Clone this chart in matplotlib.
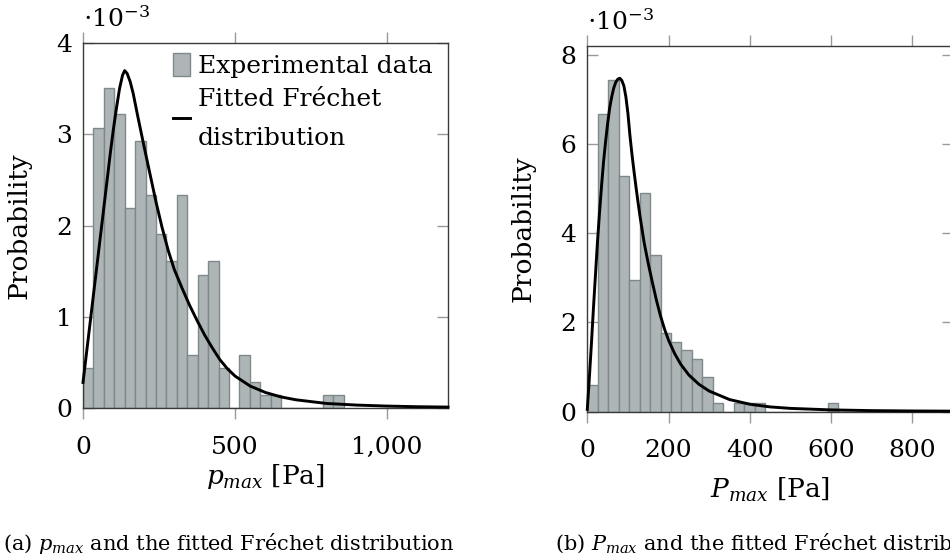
import numpy as np
import matplotlib
matplotlib.use("Agg")
import matplotlib.pyplot as plt
from matplotlib.patches import Patch
from matplotlib.lines import Line2D

plt.rcParams['font.family'] = ['DejaVu Serif']
plt.rcParams['mathtext.fontset'] = 'dejavuserif'

# ---------------- data (probabilities in units of 1e-3) ----------------
left_bin_width = 34.3
left_heights = [0.435, 3.07, 3.51, 3.22, 2.19, 2.93, 2.34, 1.91, 1.61, 2.34,
                0.58, 1.46, 1.61, 0.435, 0.0, 0.58, 0.29, 0.145, 0.145, 0.0,
                0.0, 0.0, 0.0, 0.145, 0.145]
left_fit_x = [0, 10, 20, 30, 40, 50, 60, 70, 80, 90, 100, 110, 120, 130, 137,
              145, 155, 165, 180, 200, 220, 240, 260, 280, 300, 325, 350, 375,
              400, 425, 450, 475, 500, 550, 600, 650, 700, 800, 900, 1000,
              1100, 1200]
left_fit_y = [0.28, 0.56, 0.84, 1.12, 1.40, 1.68, 1.96, 2.24, 2.52, 2.80, 3.06,
              3.29, 3.50, 3.65, 3.70, 3.67, 3.58, 3.45, 3.20, 2.88, 2.57, 2.26,
              1.98, 1.73, 1.52, 1.32, 1.13, 0.96, 0.80, 0.66, 0.53, 0.43, 0.35,
              0.24, 0.17, 0.122, 0.09, 0.05, 0.032, 0.021, 0.014, 0.010]

right_bin_width = 25.75
right_heights = [0.59, 6.66, 7.44, 5.28, 2.95, 4.89, 3.52, 1.76, 1.57, 1.37,
                 1.17, 0.78, 0.19, 0.0, 0.19, 0.19, 0.19, 0.0, 0.0, 0.0,
                 0.0, 0.0, 0.0, 0.2]
right_fit_x = [0, 5, 10, 15, 20, 25, 30, 35, 40, 45, 50, 55, 60, 65, 70, 75,
               80, 85, 90, 95, 100, 105, 110, 115, 120, 125, 130, 140, 150,
               160, 170, 180, 190, 200, 215, 230, 250, 275, 300, 350, 400,
               450, 500, 600, 700, 800, 900]
right_fit_y = [0.05, 0.75, 1.5, 2.3, 3.05, 3.8, 4.45, 5.05, 5.6, 6.05, 6.45,
               6.8, 7.05, 7.25, 7.38, 7.45, 7.47, 7.42, 7.30, 7.05, 6.68, 6.18,
               5.76, 5.38, 5.02, 4.68, 4.36, 3.78, 3.32, 2.90, 2.50, 2.15,
               1.85, 1.60, 1.30, 1.06, 0.82, 0.61, 0.46, 0.27, 0.165, 0.105,
               0.072, 0.038, 0.022, 0.014, 0.010]

left_xticks = [0, 500, 1000]
left_xticklabels = ['0', '500', '1,000']
left_yticks = [0, 1, 2, 3, 4]
right_xticks = [0, 200, 400, 600, 800]
right_xticklabels = ['0', '200', '400', '600', '800']
right_yticks = [0, 2, 4, 6, 8]

SCALE = 1e-3
BAR_FACE = '#aeb5b6'
BAR_EDGE = '#7d898b'
FS = 18

fig = plt.figure(figsize=(9.5, 5.6), dpi=100)
axL = fig.add_axes([83/950, 1-408/560, 365/950, 364.7/560])
axR = fig.add_axes([587.3/950, 1-411.6/560, 365.7/950, 365.9/560])


def draw(ax, width, heights, fx, fy, xlim, ylim, xticks, xtl, yticks):
    h = np.array(heights) * SCALE
    edges = width * np.arange(len(h))
    ax.bar(edges, h, width=width, align='edge', color=BAR_FACE,
           edgecolor=BAR_EDGE, linewidth=1.0, zorder=2)
    ax.plot(fx, np.array(fy) * SCALE, color='black', lw=2.1, zorder=3,
            solid_joinstyle='round', clip_on=False)
    ax.set_xlim(*xlim)
    ax.set_ylim(ylim[0] * SCALE, ylim[1] * SCALE)
    ax.set_xticks(xticks)
    ax.set_xticklabels(xtl)
    ax.set_yticks(np.array(yticks) * SCALE)
    ax.set_yticklabels([str(v) for v in yticks])
    ax.tick_params(axis='x', direction='out', length=8, width=1.0,
                   color='#9a9a9a', top=True, labelsize=FS, pad=12)
    ax.tick_params(axis='y', direction='in', length=8, width=1.0,
                   color='#9a9a9a', right=True, labelsize=FS, pad=8)
    for s in ax.spines.values():
        s.set_color('#3a3a3a')
        s.set_linewidth(1.0)
    ax.text(0.0, 1.03, r'$\cdot 10^{-3}$', transform=ax.transAxes,
            fontsize=FS, ha='left', va='bottom')
    ax.set_ylabel('Probability', fontsize=FS + 1, labelpad=18)


draw(axL, left_bin_width, left_heights, left_fit_x, left_fit_y,
     (0, 1200), (0, 4.0), left_xticks, left_xticklabels, left_yticks)
draw(axR, right_bin_width, right_heights, right_fit_x, right_fit_y,
     (0, 900), (0, 8.2), right_xticks, right_xticklabels, right_yticks)

axL.set_xlabel(r'$p_{max}$ [Pa]', fontsize=FS + 1, labelpad=2)
axR.set_xlabel(r'$P_{max}$ [Pa]', fontsize=FS + 1, labelpad=10)

handles = [Patch(facecolor=BAR_FACE, edgecolor=BAR_EDGE, linewidth=1.0),
           Line2D([], [], color='black', lw=2.1)]
leg = axL.legend(handles, ['Experimental data', 'Fitted Fréchet\ndistribution'],
                 loc='upper right', bbox_to_anchor=(0.985, 1.0), frameon=False,
                 fontsize=FS, handlelength=0.7, handleheight=1.0,
                 handletextpad=0.3, borderaxespad=0.2, labelspacing=0.4,
                 borderpad=0.2)
for t in leg.get_texts():
    t.set_linespacing(1.9)

fig.text(3/950, 1-543/560, r'(a) $p_{max}$ and the fitted Fréchet distribution',
         fontsize=15, ha='left', va='center')
fig.text(555/950, 1-543/560, r'(b) $P_{max}$ and the fitted Fréchet distribution',
         fontsize=15, ha='left', va='center')

fig.savefig('out.png', dpi=100)
